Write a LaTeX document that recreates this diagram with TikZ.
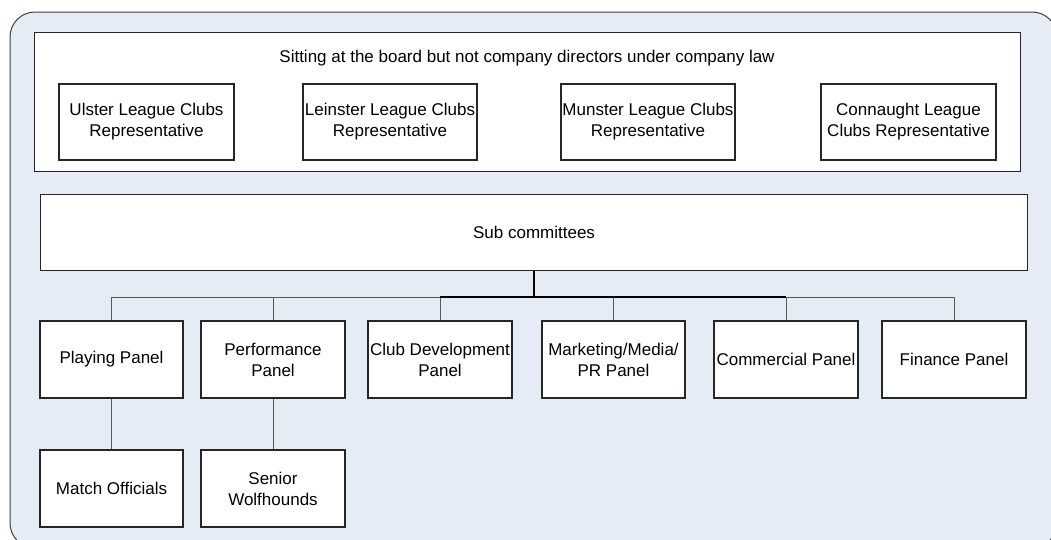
\documentclass[tikz,border=0pt]{standalone}
\usepackage{fontspec}
\setmainfont{Liberation Sans}
\begin{document}
\begin{tikzpicture}[x=1pt,y=-1pt,
  box/.style={draw=black!85,line width=1.1pt,fill=white,inner sep=0pt,align=center,font=\fontsize{17}{21}\selectfont},
  link/.style={draw=black!65,line width=0.9pt},
  trunk/.style={draw=black,line width=1.3pt}]
\useasboundingbox (0,0) rectangle (1051,539);
\begin{scope}
\clip (0,0) rectangle (1051,539);
\draw[draw=black!75,line width=1pt,fill={rgb,255:red,230;green,236;blue,246},rounded corners=25pt] (10,12) rectangle (1057,548);
\end{scope}

% board area
\node[box,minimum width=986pt,minimum height=139pt,anchor=north west] (board) at (34,32) {};
\node[font=\fontsize{17}{21}\selectfont] (boardtitle) at (527,58) {Sitting at the board but not company directors under company law};
\node[box,minimum width=175pt,minimum height=76pt] (ulster) at (146.5,122) {Ulster League Clubs\\Representative};
\node[box,minimum width=174pt,minimum height=76pt] (leinster) at (390,122) {Leinster League Clubs\\Representative};
\node[box,minimum width=174pt,minimum height=76pt] (munster) at (648,122) {Munster League Clubs\\Representative};
\node[box,minimum width=175pt,minimum height=76pt] (connaught) at (908.5,122) {Connaught League\\Clubs Representative};

% sub committees
\node[box,minimum width=987pt,minimum height=76pt,anchor=north west] (sub) at (40,194) {Sub committees};

% panels
\node[box,minimum width=143pt,minimum height=77pt] (playing) at (111.5,359.5) {Playing Panel};
\node[box,minimum width=144pt,minimum height=77pt] (performance) at (273,359.5) {Performance\\Panel};
\node[box,minimum width=144pt,minimum height=77pt] (clubdev) at (440,359.5) {Club Development\\Panel};
\node[box,minimum width=143pt,minimum height=77pt] (marketing) at (613.5,359.5) {Marketing/Media/\\PR Panel};
\node[box,minimum width=144pt,minimum height=77pt] (commercial) at (786,359.5) {Commercial Panel};
\node[box,minimum width=144pt,minimum height=77pt] (finance) at (954,359.5) {Finance Panel};

% second level
\node[box,minimum width=143pt,minimum height=77pt] (officials) at (111.5,488.5) {Match Officials};
\node[box,minimum width=144pt,minimum height=77pt] (wolfhounds) at (273,488.5) {Senior\\Wolfhounds};

% connectors
\coordinate (bus) at (534,297);
\draw[trunk] (sub.south -| bus) -- (bus);
\foreach \p in {playing,performance,clubdev,marketing,commercial,finance}
  \draw[link] (\p.north) -- (\p.north |- bus) -- (bus);
\draw[trunk] (clubdev.north |- bus) -- (commercial.north |- bus);
\draw[link] (playing.south) -- (officials.north);
\draw[link] (performance.south) -- (wolfhounds.north);
\end{tikzpicture}
\end{document}
